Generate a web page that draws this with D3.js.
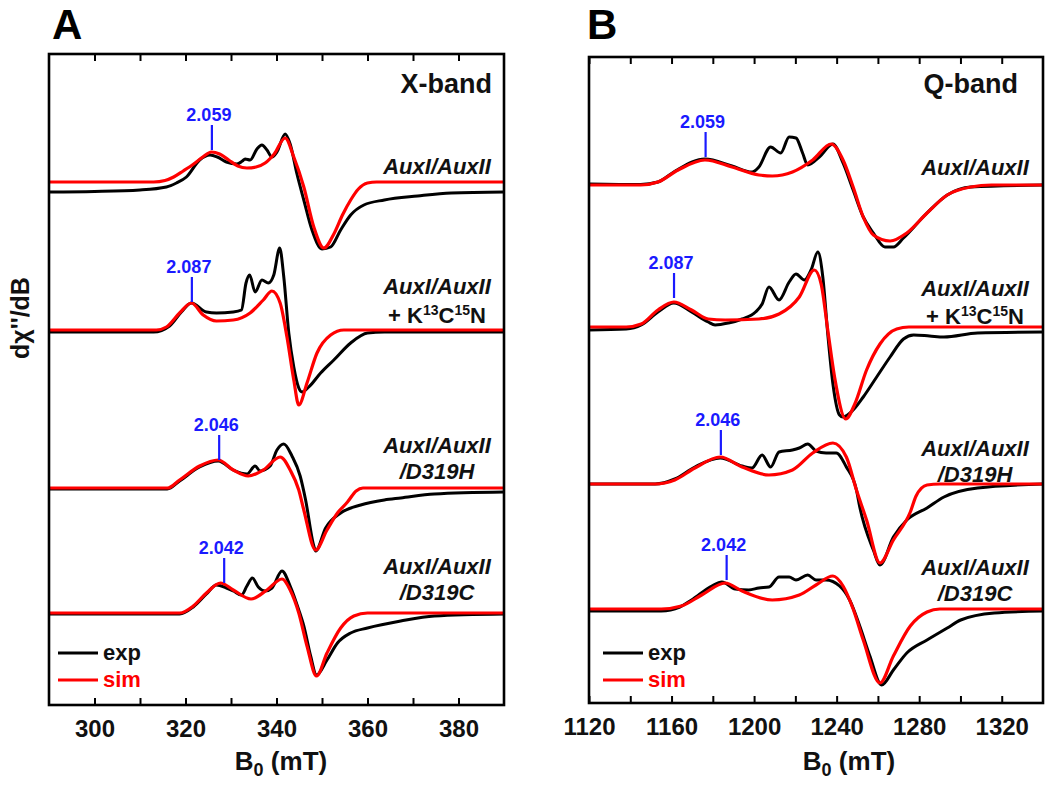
<!DOCTYPE html>
<html><head><meta charset="utf-8">
<script src="https://cdn.jsdelivr.net/npm/d3@7"></script>
<style>
body{margin:0;background:#fff}
svg{display:block}
text{font-family:"Liberation Sans",Arial,Helvetica,sans-serif}
</style>
</head><body>
<svg id="chart" width="1050" height="786"></svg>
<script>
// ---------------- DATA ----------------
// X-band (panel A) field axis, mT
const xTicksA  = [300,310,320,330,340,350,360,370,380];
const xLabelsA = [300,320,340,360,380];
// Q-band (panel B) field axis, mT
const xTicksB  = [1120,1140,1160,1180,1200,1220,1240,1260,1280,1300,1320];
const xLabelsB = [1120,1160,1200,1240,1280,1320];

const sampleNames = [["AuxI/AuxII"],["AuxI/AuxII","+ K^13C^15N"],["AuxI/AuxII","/D319H"],["AuxI/AuxII","/D319C"]];
const gLabels   = ["2.059","2.087","2.046","2.042"];
const gFieldA   = [325.8, 321.4, 327.4, 328.5];     // mT
const gFieldB   = [1176.5, 1161.2, 1183.9, 1186.7]; // mT
const gAmpA     = [32, 28, 28, 30];                 // a.u. (marker foot)
const gAmpB     = [28, 29, 29, 29];
const stackOffsetA = [523, 375, 217, 92];           // a.u.
const stackOffsetB = [518, 376, 219, 94];

// [field (mT), dχ''/dB (a.u.)]
const expA1 = [[290,-10],[300,-9.5],[310,-8],[315.8,-5],[318,-1],[320.2,5],[323.1,22],[325.4,27],[327,25],[329,20],[331.3,18],[332.5,21],[333.1,23],[334.2,22],[335.7,33],[336.8,37],[337.9,32],[339,25],[340.1,30],[341.9,48],[343,38],[344.5,8],[346,-18],[347.8,-48],[350,-67],[351.9,-65],[354.1,-48],[356.3,-33],[359.2,-23],[363.7,-18],[371,-14],[378.4,-11],[390,-10]];
const simA1 = [[290,0],[313,0],[315.5,1.5],[317.4,5],[319.5,11],[321.8,18],[323.8,25],[325.7,30],[327.5,28],[329.5,22],[331.5,16],[333.5,14],[335.5,15],[337.5,19],[339.5,28],[341.9,44],[343.8,25],[346,-5],[348.2,-45],[350.4,-66],[352.6,-52],[354.5,-33],[356.3,-18],[358,-7],[360,-1],[362,0],[390,0]];

const expA2 = [[290,-2],[313,-2],[316.5,4],[319.1,18],[321.3,27],[324.6,18],[326.8,17],[330.5,18],[332.3,20],[333.3,47],[334.1,55],[335.3,38],[336.8,50],[338.2,47],[339.4,55],[340.7,82],[341.6,53],[342.7,-3],[343.8,-37],[344.9,-58],[345.6,-62],[347.1,-57],[349.7,-43],[352.6,-30],[356.3,-13],[360,-3],[363.7,-2],[390,-2]];
const simA2 = [[290,0],[313.6,0],[315.8,3],[318.7,17],[321.3,27],[323.9,15],[326.8,9],[330.5,10],[334.2,17],[337.1,30],[339,39],[340.8,27],[342.3,-7],[343.8,-50],[344.9,-75],[346.7,-53],[348.9,-23],[351.9,-5],[354.8,0],[390,0]];

const expA3 = [[290,-1],[316,-1],[318.7,7],[323.1,21],[327.2,27],[330.5,18],[333.5,14],[335.3,22],[336.4,17],[338.6,22],[340.1,38],[341.6,44],[343.4,32],[345.2,12],[346.4,-12],[348.2,-58],[348.6,-63],[350.8,-40],[354.1,-25],[358.5,-17],[363.7,-12],[367.3,-10],[374.7,-6],[390,-4]];
const simA3 = [[290,0],[316,0],[318.7,8],[323.1,22],[327.2,28],[330.5,18],[333.8,12],[337.1,18],[340.8,31],[343,18],[344.9,-2],[346,-22],[348.6,-62],[351.1,-42],[353.4,-25],[355.6,-14],[357.5,-3],[359,0],[390,0]];

const expA4 = [[290,-1],[318.7,-1],[321.7,6],[324.6,19],[326.8,28],[329,25],[330.5,22],[332.3,18],[333.5,27],[334.7,35],[336,26],[337.5,22],[339,25],[341.2,42],[343,27],[344.9,3],[346,-13],[347.5,-43],[348.8,-62],[351.1,-47],[353.4,-30],[356.3,-20],[360,-15],[367.3,-8],[374.7,-3],[390,-1]];
const simA4 = [[290,0],[318.7,0],[321.7,7],[324.6,20],[327.7,30],[330.5,23],[334.4,14],[337.9,23],[341.2,34],[343,23],[344.9,0],[346.7,-33],[348.8,-63],[351.1,-40],[354.1,-15],[357,-3],[360,0],[390,0]];

const expB1 = [[1120,1],[1145,0.5],[1153.4,3],[1161.8,14],[1176.2,26],[1189.3,19],[1199,13],[1202.3,18],[1208,38],[1212.9,32],[1217,48],[1220.3,47],[1223.5,32],[1226,20],[1231.6,28],[1238.2,41],[1243.1,22],[1248,-5],[1252.9,-32],[1257.8,-48],[1263.4,-62],[1267.5,-62],[1272.4,-53],[1283.8,-28],[1293.6,-10],[1305,-2],[1340,0]];
const simB1 = [[1120,0],[1145,0],[1153.4,3],[1163.2,15],[1176.2,25],[1189.3,18],[1202.3,10],[1208.8,9],[1218.6,13],[1228.4,25],[1237.4,41],[1243.1,25],[1248,-2],[1252.9,-32],[1257.8,-50],[1265.9,-56],[1274,-48],[1283.8,-28],[1293.6,-10],[1305,-2],[1315,0],[1340,0]];

const expB2 = [[1120,-3],[1138,-2],[1145.3,2],[1153.4,15],[1161.1,24],[1169.7,15],[1177.8,5],[1181.1,2],[1187.6,4],[1194.2,8],[1200.7,15],[1203.9,23],[1207.2,40],[1212.1,27],[1217,45],[1220.3,53],[1224.4,47],[1227.6,57],[1230.9,75],[1233.3,50],[1235.7,-7],[1238.2,-57],[1241.4,-88],[1243.1,-90],[1248,-83],[1252.9,-70],[1259.4,-50],[1265.9,-30],[1272.4,-12],[1277.3,-8],[1285,-9],[1292,-10],[1308.3,-6],[1340,-5]];
const simB2 = [[1120,0],[1138,0],[1145.3,3],[1153.4,17],[1161.1,25],[1169.7,17],[1177.8,8],[1186,7],[1202.3,8],[1212.1,13],[1221.9,30],[1229.2,57],[1232.5,43],[1235.7,-3],[1239,-50],[1244.4,-92],[1248.8,-77],[1254.5,-43],[1261,-17],[1269.1,-2],[1275,0],[1340,0]];

const expB3 = [[1120,0],[1152,0],[1161.6,5],[1171.3,17],[1183.6,26],[1194.2,18],[1199,16],[1203.9,29],[1208,17],[1212.1,32],[1218.6,34],[1221.9,36],[1226,40],[1230,33],[1234.9,31],[1239.8,31],[1244.7,17],[1249.6,-6],[1251.2,-23],[1257.8,-66],[1261,-81],[1267.5,-53],[1274,-36],[1283.8,-24],[1292,-13],[1308.3,-4],[1340,0]];
const simB3 = [[1120,0],[1152,0],[1161.6,4],[1171.3,16],[1183.6,27],[1194.2,17],[1207.2,9],[1218.6,14],[1228.4,31],[1238.2,41],[1244.7,27],[1249.6,-6],[1254.5,-36],[1261,-79],[1267.5,-56],[1275.7,-28],[1278.5,-12],[1283.8,-1],[1290,0],[1340,0]];

const expB4 = [[1120,-2],[1155,-2],[1164,2],[1169.7,9],[1179.5,23],[1184.4,27],[1190.9,20],[1197.4,19],[1202.3,21],[1207.2,22],[1212.1,32],[1217,32],[1220.3,29],[1226,34],[1230,29],[1234.9,29],[1241.4,23],[1246.3,9],[1251.2,-17],[1256.1,-47],[1261.8,-76],[1267.5,-61],[1274,-44],[1283.8,-31],[1293.6,-19],[1300.1,-11],[1316.4,-4],[1340,-2]];
const simB4 = [[1120,0],[1155,0],[1164.8,3],[1174.6,14],[1186,26],[1194.2,18],[1208.8,9],[1221.9,14],[1230,24],[1238.2,33],[1243.1,23],[1248,0],[1252.9,-31],[1261,-74],[1267.5,-47],[1275.7,-17],[1283.8,-3],[1290,0],[1340,0]];

// ---------------- LAYOUT ----------------
const FONT = '"Liberation Sans",Arial,Helvetica,sans-serif';
const svg = d3.select("#chart");

const panels = [
  { letter:"A", band:"X-band", x0:49, x1:504, y0:54, y1:705, domain:[290,390], ymax:651,
    ticks:xTicksA, labels:xLabelsA, exp:[expA1,expA2,expA3,expA4], sim:[simA1,simA2,simA3,simA4],
    gField:gFieldA, gAmp:gAmpA, offset:stackOffsetA, nameX:437, bandX:492, titleX:281,
    nameDy:[[-8],[-36,-7],[-35,-9],[-39,-13]], legX:58, letterX:52 },
  { letter:"B", band:"Q-band", x0:589, x1:1043, y0:57, y1:703, domain:[1120,1340], ymax:646,
    ticks:xTicksB, labels:xLabelsB, exp:[expB1,expB2,expB3,expB4], sim:[simB1,simB2,simB3,simB4],
    gField:gFieldB, gAmp:gAmpB, offset:stackOffsetB, nameX:975, bandX:1018, titleX:849,
    nameDy:[[-10],[-31,-3],[-28,-2],[-34,-8]], legX:603, letterX:587 }
];

panels.forEach(p => {
  const x = d3.scaleLinear().domain(p.domain).range([p.x0, p.x1]);
  const y = d3.scaleLinear().domain([0, p.ymax]).range([p.y1, p.y0]);
  const g = svg.append("g");

  const cid = "clip" + p.letter;
  svg.append("clipPath").attr("id", cid).append("rect")
    .attr("x", p.x0).attr("y", p.y0).attr("width", p.x1 - p.x0).attr("height", p.y1 - p.y0);

  const plot = g.append("g").attr("clip-path", `url(#${cid})`);
  const mkLine = off => d3.line().x(d => x(d[0])).y(d => y(off + d[1])).curve(d3.curveMonotoneX);
  [0,1,2,3].forEach(i => {
    plot.append("path").datum(p.exp[i]).attr("d", mkLine(p.offset[i]))
      .attr("fill","none").attr("stroke","#000").attr("stroke-width",3).attr("stroke-linejoin","round");
  });
  [0,1,2,3].forEach(i => {
    plot.append("path").datum(p.sim[i]).attr("d", mkLine(p.offset[i]))
      .attr("fill","none").attr("stroke","#ff0000").attr("stroke-width",3.2).attr("stroke-linejoin","round");
  });

  // g-value markers
  [0,1,2,3].forEach(i => {
    const gx = x(p.gField[i]);
    const yb = y(p.offset[i] + p.gAmp[i]);
    const yt = yb - 25;
    g.append("line").attr("x1",gx).attr("x2",gx).attr("y1",yb).attr("y2",yt)
      .attr("stroke","#1a1aff").attr("stroke-width",2.2);
    g.append("text").attr("x",gx - 3).attr("y",yt - 4).attr("text-anchor","middle")
      .attr("font-size",18).attr("font-weight","bold").attr("fill","#1a1aff").text(gLabels[i]);
  });

  // sample names
  [0,1,2,3].forEach(i => {
    const base = y(p.offset[i]);
    sampleNames[i].forEach((s, j) => {
      const t = g.append("text").attr("x", p.nameX).attr("y", base + p.nameDy[i][j])
        .attr("text-anchor","middle").attr("font-size",22).attr("font-weight","bold").attr("fill","#111");
      if (s.startsWith("+")) {
        const parts = s.split(/(\^\d+)/).filter(q => q.length);
        let raised = false;
        parts.forEach(q => {
          if (q.startsWith("^")) { t.append("tspan").attr("font-size",14).attr("dy",-8).text(q.slice(1)); raised = true; }
          else {
            const ts = t.append("tspan").text(q);
            if (raised) { ts.attr("dy", 8); raised = false; }
          }
        });
      } else {
        t.attr("font-style","italic").text(s);
      }
    });
  });

  // frame
  g.append("rect").attr("x",p.x0).attr("y",p.y0).attr("width",p.x1-p.x0).attr("height",p.y1-p.y0)
    .attr("fill","none").attr("stroke","#000").attr("stroke-width",2.6);

  // axes ticks (inward, top & bottom)
  const axB = d3.axisBottom(x).tickValues(p.ticks).tickSizeInner(-7).tickSizeOuter(0).tickPadding(15)
    .tickFormat(v => p.labels.includes(v) ? v : "");
  const gb = g.append("g").attr("transform",`translate(0,${p.y1})`).call(axB);
  gb.select(".domain").remove();
  gb.selectAll(".tick line").attr("stroke","#000").attr("stroke-width",2);
  gb.selectAll(".tick text").attr("font-size",24).attr("font-weight","bold").attr("fill","#111")
    .attr("font-family",FONT);
  const axT = d3.axisTop(x).tickValues(p.ticks).tickSizeInner(-7).tickSizeOuter(0).tickFormat("");
  const gt = g.append("g").attr("transform",`translate(0,${p.y0})`).call(axT);
  gt.select(".domain").remove();
  gt.selectAll(".tick line").attr("stroke","#000").attr("stroke-width",2);

  // x title
  const xt = g.append("text").attr("x",p.titleX).attr("y",770).attr("text-anchor","middle")
    .attr("font-size",26).attr("font-weight","bold").attr("fill","#111");
  xt.append("tspan").text("B");
  xt.append("tspan").attr("font-size",18).attr("dy",6).text("0");
  xt.append("tspan").attr("dy",-6).text(" (mT)");

  // panel letter
  g.append("text").attr("x",p.letterX).attr("y",39).attr("font-size",42).attr("font-weight","bold")
    .attr("fill","#000").text(p.letter);

  // band label
  g.append("text").attr("x",p.bandX).attr("y",93).attr("text-anchor","end")
    .attr("font-size",27).attr("font-weight","bold").attr("fill","#111").text(p.band);

  // legend
  [["exp","#000"],["sim","#ff0000"]].forEach((L, k) => {
    const ly = 653 + k * 27;
    g.append("line").attr("x1",p.legX).attr("x2",p.legX+40).attr("y1",ly).attr("y2",ly)
      .attr("stroke",L[1]).attr("stroke-width",3);
    g.append("text").attr("x",p.legX+45).attr("y",ly).attr("dy","0.32em")
      .attr("font-size",22).attr("font-weight","bold").attr("fill",L[1]==="#000"?"#111":"#ff0000").text(L[0]);
  });
});

// y title
const yt = svg.append("text").attr("transform","translate(29,318) rotate(-90)")
  .attr("text-anchor","middle").attr("font-size",25).attr("font-weight","bold").attr("fill","#111");
yt.append("tspan").text("d");
yt.append("tspan").text("χ");
yt.append("tspan").text("''/dB");
</script>
</body></html>
